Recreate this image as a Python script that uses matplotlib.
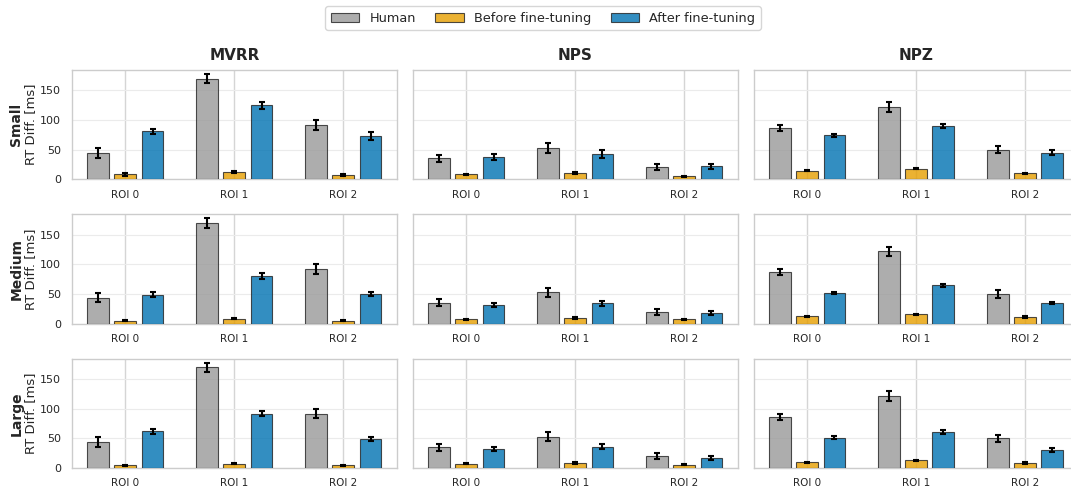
import matplotlib
matplotlib.use("Agg")
import matplotlib.pyplot as plt
import numpy as np
import seaborn as sns

sns.set_theme(style="whitegrid")
plt.rcParams['font.family'] = ['DejaVu Sans']

sizes = ["Small", "Medium", "Large"]
metrics = ["MVRR", "NPS", "NPZ"]
rois = ["ROI 0", "ROI 1", "ROI 2"]
series = ["Human", "Before fine-tuning", "After fine-tuning"]

human = {
    "MVRR": [44, 170, 92],
    "NPS": [35, 53, 20],
    "NPZ": [87, 122, 50],
}
human_err = {
    "MVRR": [8, 8, 8],
    "NPS": [6, 8, 5],
    "NPZ": [5, 8, 6],
}
before = {
    "Small": {"MVRR": [8, 12, 7], "NPS": [8, 10, 5], "NPZ": [14, 18, 10]},
    "Medium": {"MVRR": [5, 8.5, 5], "NPS": [7, 9.5, 7], "NPZ": [12, 16, 11]},
    "Large": {"MVRR": [4.5, 7, 4.5], "NPS": [7, 8.5, 5.5], "NPZ": [9.5, 13, 8.5]},
}
before_err = {
    "Small": {"MVRR": [2, 2, 1], "NPS": [1, 1.5, 1], "NPZ": [1, 1, 1]},
    "Medium": {"MVRR": [1, 1, 1], "NPS": [1, 1, 1], "NPZ": [1, 1, 1]},
    "Large": {"MVRR": [1, 1, 1], "NPS": [1, 1, 1], "NPZ": [1, 1, 1]},
}
after = {
    "Small": {"MVRR": [81, 125, 73], "NPS": [37, 43, 22], "NPZ": [74, 90, 45]},
    "Medium": {"MVRR": [49, 80, 50], "NPS": [31, 34, 17.5], "NPZ": [52, 64.5, 34.5]},
    "Large": {"MVRR": [62, 92, 49], "NPS": [32, 36, 17], "NPZ": [51.5, 61, 30]},
}
after_err = {
    "Small": {"MVRR": [4, 6, 6], "NPS": [5, 7, 4], "NPZ": [3, 4, 4]},
    "Medium": {"MVRR": [4, 5, 4], "NPS": [3, 4, 3], "NPZ": [2, 2, 2]},
    "Large": {"MVRR": [4, 4, 4], "NPS": [3, 4, 3], "NPZ": [2, 3, 3]},
}

colors = ["#999999", "#E69F00", "#0072B2"]

fig, axes = plt.subplots(3, 3, figsize=(10.71, 4.88), dpi=100, sharey=True)
fig.subplots_adjust(left=0.0672, right=1.007, top=0.857, bottom=0.041,
                    wspace=0.05, hspace=0.32)

x = np.arange(len(rois))
width = 0.2
offsets = [-0.25, 0.0, 0.25]

for i, size in enumerate(sizes):
    for j, metric in enumerate(metrics):
        ax = axes[i, j]
        vals = [human[metric], before[size][metric], after[size][metric]]
        errs = [human_err[metric], before_err[size][metric], after_err[size][metric]]
        for k in range(3):
            ax.bar(x + offsets[k], vals[k], width, yerr=errs[k],
                   color=colors[k], alpha=0.8, edgecolor="#222222", linewidth=0.8,
                   error_kw=dict(ecolor="black", elinewidth=1.5, capsize=2, capthick=1.5),
                   label=series[k], zorder=3)
        ax.set_xticks(x)
        ax.set_xticklabels(rois, fontsize=7.5)
        ax.set_xlim(-0.49, 2.49)
        ax.set_ylim(0, 185)
        ax.set_yticks([0, 50, 100, 150])
        ax.tick_params(axis='y', labelsize=8, pad=2)
        ax.tick_params(axis='x', pad=1.5)
        ax.grid(axis='y', color="#ebebeb", linewidth=0.8)
        ax.grid(axis='x', color="#d5d5d5", linewidth=1.0)
        ax.set_axisbelow(True)
        for sp in ax.spines.values():
            sp.set_color("#cccccc")
            sp.set_linewidth(1.0)
        if i == 0:
            ax.set_title(metric, fontsize=11, fontweight="bold", pad=7)
        if j == 0:
            ax.set_ylabel("RT Diff. [ms]", fontsize=9.5, labelpad=2)
            ax.annotate(size, xy=(0, 0.5), xycoords="axes fraction",
                        xytext=(-40, 0), textcoords="offset points",
                        rotation=90, ha="center", va="center",
                        fontsize=10, fontweight="bold")

handles, labels = axes[0, 0].get_legend_handles_labels()
fig.legend(handles, labels, loc="upper center", ncol=3, bbox_to_anchor=(0.507, 1.0),
           fontsize=9.3, frameon=True, edgecolor="#cccccc", handlelength=2.2,
           columnspacing=1.5, borderpad=0.4)

fig.savefig("out.png", dpi=100)
